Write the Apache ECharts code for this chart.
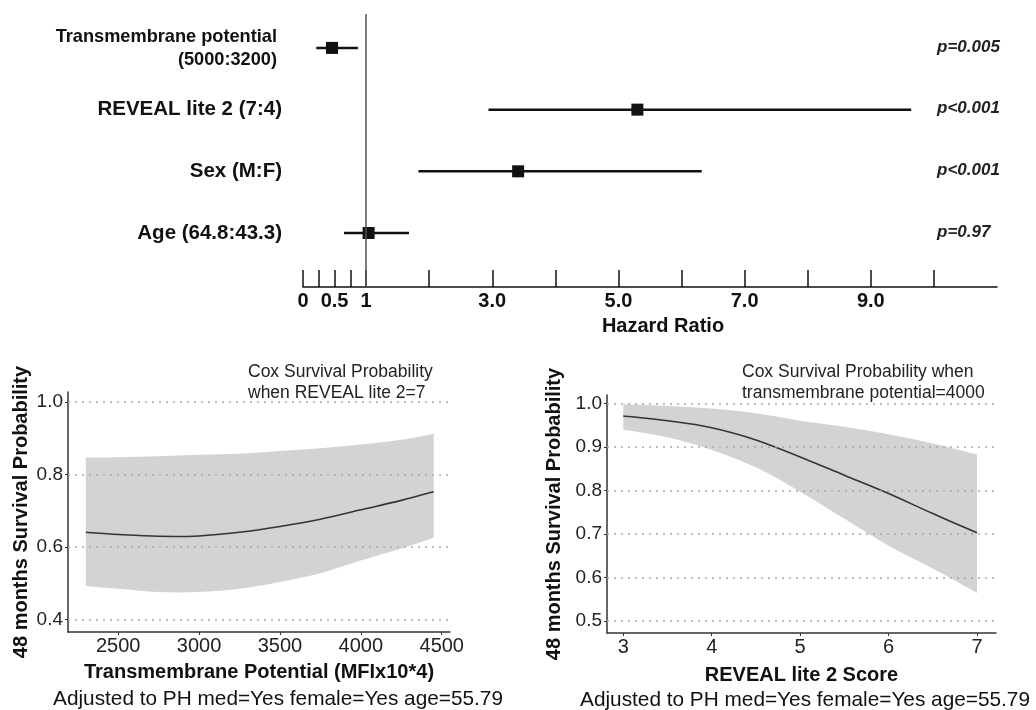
<!DOCTYPE html>
<html>
<head>
<meta charset="utf-8">
<title>Hazard ratios and Cox survival probability</title>
<script src="https://cdn.jsdelivr.net/npm/echarts@6/dist/echarts.min.js"></script>
<style>
  html, body { margin: 0; padding: 0; background: #fff; }
  #chart { width: 1036px; height: 710px; }
</style>
</head>
<body>
<div id="chart"></div>
<script>
// forest plot rows, top to bottom
var factorNames = ["Transmembrane potential\n(5000:3200)", "REVEAL lite 2 (7:4)", "Sex (M:F)", "Age (64.8:43.3)"];
var hazardRatio = [0.46, 5.30, 3.41, 1.04];
var ciLow = [0.21, 2.94, 1.83, 0.65];
var ciHigh = [0.87, 9.64, 6.32, 1.68];
var pValues = ["p=0.005", "p<0.001", "p<0.001", "p=0.97"];
var hrTicks = [0, 0.25, 0.5, 0.75, 1, 2, 3, 4, 5, 6, 7, 8, 9, 10];
var hrLabels = [0, 0.5, 1, 3, 5, 7, 9];
var hrLabelText = ["0", "0.5", "1", "3.0", "5.0", "7.0", "9.0"];

// survival vs transmembrane potential (REVEAL lite 2 = 7)
var tmpX = [2300, 2500, 2750, 3000, 3250, 3500, 3750, 4000, 4250, 4450];
var tmpFit = [0.641, 0.635, 0.630, 0.631, 0.641, 0.657, 0.677, 0.703, 0.729, 0.753];
var tmpUpper = [0.847, 0.848, 0.851, 0.855, 0.858, 0.865, 0.873, 0.883, 0.896, 0.913];
var tmpLower = [0.493, 0.485, 0.476, 0.476, 0.485, 0.504, 0.528, 0.563, 0.596, 0.626];
var tmpXTicks = [2500, 3000, 3500, 4000, 4500];
var tmpYTicks = [0.4, 0.6, 0.8, 1.0];

// survival vs REVEAL lite 2 score (transmembrane potential = 4000)
var revX = [3, 3.5, 4, 4.5, 5, 5.5, 6, 6.5, 7];
var revFit = [0.971, 0.960, 0.944, 0.916, 0.877, 0.835, 0.793, 0.747, 0.703];
var revUpper = [0.998, 0.994, 0.988, 0.977, 0.960, 0.946, 0.929, 0.908, 0.883];
var revLower = [0.940, 0.922, 0.893, 0.853, 0.797, 0.735, 0.673, 0.621, 0.565];
var revXTicks = [3, 4, 5, 6, 7];
var revYTicks = [0.5, 0.6, 0.7, 0.8, 0.9, 1.0];

var FONT = "Liberation Sans, Arial, Helvetica, sans-serif";

// smooth curve through pixel points (catmull-rom as cubic beziers)
function curvePath(pts) {
  var d = "";
  for (var i = 0; i < pts.length - 1; i++) {
    var p0 = pts[i - 1] || pts[i], p1 = pts[i], p2 = pts[i + 1], p3 = pts[i + 2] || pts[i + 1];
    var c1 = [p1[0] + (p2[0] - p0[0]) / 6, p1[1] + (p2[1] - p0[1]) / 6];
    var c2 = [p2[0] - (p3[0] - p1[0]) / 6, p2[1] - (p3[1] - p1[1]) / 6];
    d += " C" + c1[0] + " " + c1[1] + " " + c2[0] + " " + c2[1] + " " + p2[0] + " " + p2[1];
  }
  return d;
}

// value columns: 0 = x, 1 = lower, 2 = upper, 3 = fit
function pointsFor(api, n, dim) {
  var pts = [];
  for (var i = 0; i < n; i++) {
    pts.push(api.coord([api.value(0, i), api.value(dim, i)]));
  }
  return pts;
}

function renderBand(params, api) {
  if (params.dataIndexInside !== 0) return null;
  var n = params.dataInsideLength;
  var top = pointsFor(api, n, 2);
  var bottom = pointsFor(api, n, 1).reverse();
  var d = "M" + top[0][0] + " " + top[0][1] + curvePath(top) +
    " L" + bottom[0][0] + " " + bottom[0][1] + curvePath(bottom) + " Z";
  // semi transparent like a ggplot ribbon, so the dotted grid shows through
  return { type: "path", shape: { pathData: d }, style: { fill: "rgba(150,150,150,0.42)" } };
}

function renderFit(params, api) {
  if (params.dataIndexInside !== 0) return null;
  var pts = pointsFor(api, params.dataInsideLength, 3);
  var d = "M" + pts[0][0] + " " + pts[0][1] + curvePath(pts);
  return { type: "path", shape: { pathData: d }, style: { fill: null, stroke: "#333", lineWidth: 1.6 } };
}

function bandSeries(idx, xs, lower, upper, fit, yTicks) {
  var rows = xs.map(function (x, i) { return [x, lower[i], upper[i], fit[i]]; });
  return [
    {
      type: "custom", xAxisIndex: idx, yAxisIndex: idx, z: 1,
      renderItem: renderBand, silent: true, data: rows
    },
    {
      type: "custom", xAxisIndex: idx, yAxisIndex: idx, z: 4,
      renderItem: renderFit, silent: true, data: rows,
      markLine: {
        silent: true, symbol: "none", label: { show: false },
        lineStyle: { color: "#a8a8a8", type: [2, 5], width: 1.5 },
        data: yTicks.map(function (v) { return { yAxis: v }; })
      }
    }
  ];
}

function renderForest(params, api) {
  var row = api.value(0);
  var lo = api.coord([api.value(1), row]);
  var mid = api.coord([api.value(2), row]);
  var hi = api.coord([api.value(3), row]);
  var cs = params.coordSys;
  var s = 12;
  return {
    type: "group",
    children: [
      { type: "line", shape: { x1: lo[0], y1: lo[1], x2: hi[0], y2: hi[1] },
        style: { stroke: "#111", lineWidth: 2.5 } },
      { type: "rect", shape: { x: mid[0] - s / 2, y: mid[1] - s / 2, width: s, height: s },
        style: { fill: "#111" } },
      { type: "text", x: cs.x + cs.width - 60, y: mid[1] - 1,
        style: { text: pValues[params.dataIndex], fontSize: 17, fontWeight: "bold", fontStyle: "italic",
          fontFamily: FONT, fill: "#222", verticalAlign: "middle" } }
    ]
  };
}

function bottomXAxis(idx, min, max, ticks, name, gap) {
  return {
    type: "value", gridIndex: idx, min: min, max: max,
    name: name, nameLocation: "middle", nameGap: gap,
    nameTextStyle: { fontFamily: FONT, fontSize: 20, fontWeight: "bold", color: "#111" },
    axisLine: { onZero: false, lineStyle: { color: "#333", width: 1.5 } },
    axisTick: { show: true, length: 3, customValues: ticks, lineStyle: { color: "#333" } },
    axisLabel: { customValues: ticks, margin: 4, fontFamily: FONT, fontSize: 20, color: "#222",
      formatter: function (v) { return String(v); } },
    splitLine: { show: false }
  };
}

function bottomYAxis(idx, min, max, ticks, gap) {
  return {
    type: "value", gridIndex: idx, min: min, max: max,
    name: "48 months Survival Probability", nameLocation: "middle", nameGap: gap, nameRotate: 90,
    nameTextStyle: { fontFamily: FONT, fontSize: 20, fontWeight: "bold", color: "#111" },
    axisLine: { show: true, onZero: false, lineStyle: { color: "#333", width: 1.5 } },
    axisTick: { show: true, length: 3, customValues: ticks, lineStyle: { color: "#333" } },
    axisLabel: { customValues: ticks, margin: 5, fontFamily: FONT, fontSize: 19, color: "#222",
      formatter: function (v) { return v.toFixed(1); } },
    splitLine: { show: false }
  };
}

var forestData = factorNames.map(function (n, i) {
  return [factorNames.length - i, ciLow[i], hazardRatio[i], ciHigh[i]];
});

var annotStyle = { fontFamily: FONT, fontSize: 17.5, fontWeight: "normal", color: "#222", lineHeight: 20.6 };
var noteStyle = { fontFamily: FONT, fontSize: 20.8, fontWeight: "normal", color: "#111", lineHeight: 21 };
var smallLabel = { fontFamily: FONT, fontSize: 18.2, fontWeight: "bold", color: "#111", lineHeight: 25 };

var chartDom = document.getElementById("chart");
var myChart = echarts.init(chartDom, null, { renderer: "canvas" });
var option;

option = {
  animation: false,
  backgroundColor: "#fff",
  title: [
    { text: "Cox Survival Probability\nwhen REVEAL lite 2=7", left: 248, top: 362, padding: 0, textStyle: annotStyle },
    { text: "Cox Survival Probability when\ntransmembrane potential=4000", left: 742, top: 362, padding: 0, textStyle: annotStyle },
    { text: "Adjusted to PH med=Yes female=Yes age=55.79", left: 278, top: 689, padding: 0, textAlign: "center", textStyle: noteStyle },
    { text: "Adjusted to PH med=Yes female=Yes age=55.79", left: 805, top: 690, padding: 0, textAlign: "center", textStyle: noteStyle }
  ],
  grid: [
    { left: 303, width: 694, top: 14, height: 273 },
    { left: 68, width: 382, top: 392, height: 240 },
    { left: 607, width: 389, top: 395, height: 238 }
  ],
  xAxis: [
    {
      type: "value", gridIndex: 0, min: 0, max: 11,
      name: "Hazard Ratio", nameLocation: "middle", nameGap: 29,
      nameTextStyle: { fontFamily: FONT, fontSize: 20, fontWeight: "bold", color: "#111", padding: [0, 0, 0, 26] },
      axisLine: { onZero: false, lineStyle: { color: "#111", width: 1.5 } },
      axisTick: { show: true, inside: true, length: 17, customValues: hrTicks, lineStyle: { color: "#111", width: 1.5 } },
      axisLabel: { customValues: hrLabels, margin: 4, fontFamily: FONT, fontSize: 20, fontWeight: "bold", color: "#111",
        formatter: function (v) { return hrLabelText[hrLabels.indexOf(v)]; } },
      splitLine: { show: false }
    },
    bottomXAxis(1, 2190, 4551, tmpXTicks, "Transmembrane Potential (MFIx10*4)", 30),
    bottomXAxis(2, 2.816, 7.215, revXTicks, "REVEAL lite 2 Score", 32)
  ],
  yAxis: [
    {
      type: "value", gridIndex: 0, min: 0.125, max: 4.55,
      axisLine: { show: false }, axisTick: { show: false }, splitLine: { show: false },
      axisLabel: {
        customValues: [4, 3, 2, 1], margin: 21, align: "right",
        fontFamily: FONT, fontSize: 20.5, fontWeight: "bold", color: "#111",
        formatter: function (v) {
          var i = factorNames.length - v;
          var parts = factorNames[i].split("\n");
          if (parts.length > 1) {
            return "{l1|" + parts[0] + "}\n{l2|" + parts[1] + "}";
          }
          return factorNames[i];
        },
        rich: {
          l1: Object.assign({ padding: [4, 5, 0, 0] }, smallLabel),
          l2: Object.assign({ padding: [0, 5, 0, 0] }, smallLabel)
        }
      }
    },
    bottomYAxis(1, 0.366, 1.028, tmpYTicks, 37),
    bottomYAxis(2, 0.473, 1.019, revYTicks, 43)
  ],
  series: [
    {
      type: "custom", xAxisIndex: 0, yAxisIndex: 0, z: 3,
      renderItem: renderForest, data: forestData,
      markLine: {
        silent: true, symbol: "none", label: { show: false },
        lineStyle: { color: "#555", type: "solid", width: 1.5 },
        data: [{ xAxis: 1 }]
      }
    }
  ].concat(
    bandSeries(1, tmpX, tmpLower, tmpUpper, tmpFit, tmpYTicks),
    bandSeries(2, revX, revLower, revUpper, revFit, revYTicks)
  )
};

option && myChart.setOption(option);
window.addEventListener("resize", function () {
  myChart.resize();
});
</script>
</body>
</html>
